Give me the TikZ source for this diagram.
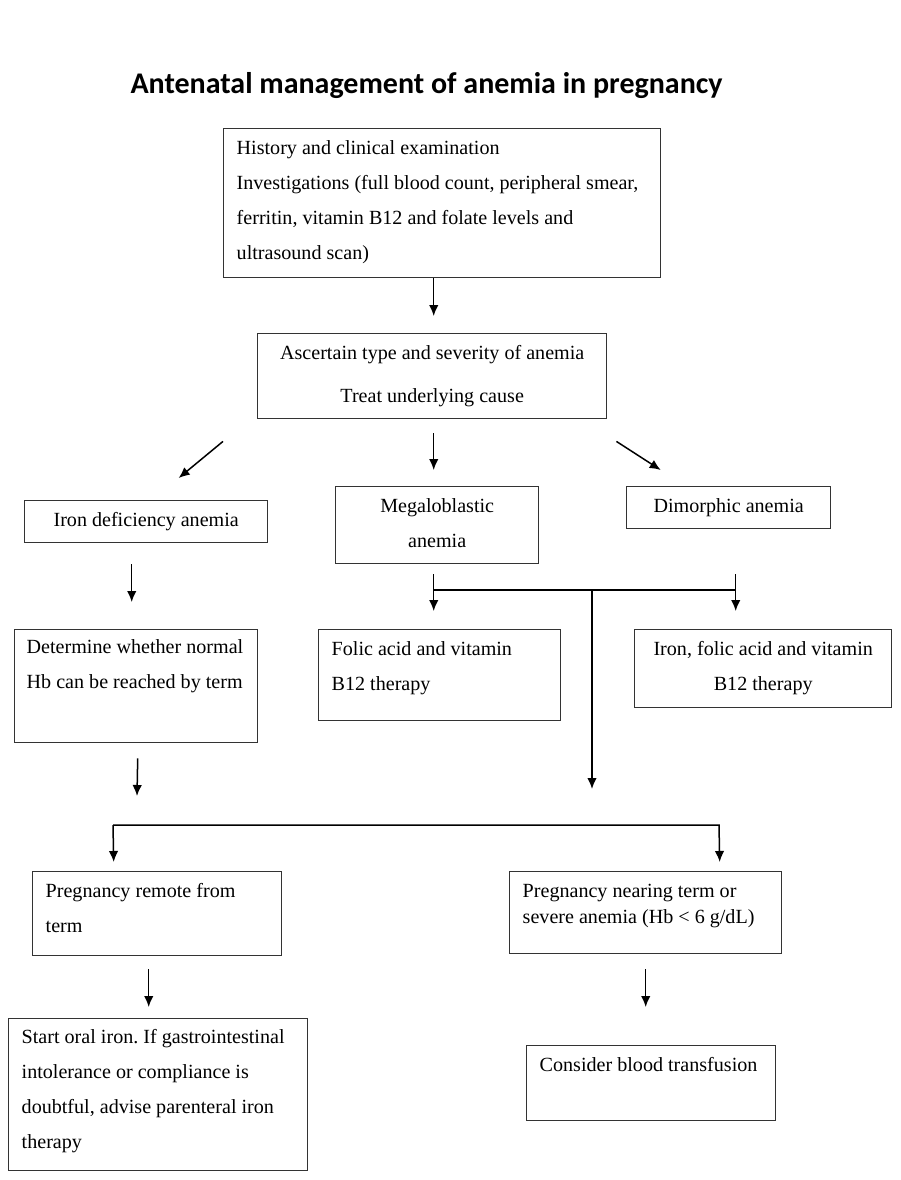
\documentclass[tikz,border=0pt]{standalone}
\usepackage{fontspec}
\setmainfont{Liberation Serif}
\newfontfamily\titlefont{Carlito}
\usepackage{tikz}
\usetikzlibrary{arrows.meta}

\begin{document}
\frenchspacing
\begin{tikzpicture}[
    x=1pt, y=-1pt,
    box/.style={rectangle,draw=black!80,line width=1.4pt,anchor=north west,inner ysep=2pt,inner xsep=13pt,font=\fontsize{20.1}{35}\selectfont},
    lbox/.style={box,align=flush left},
    cbox/.style={box,align=center},
    arrow/.style={-{Latex[length=11pt,width=9.5pt]},line width=1.5pt},
    link/.style={line width=1.5pt}
]
\useasboundingbox (0,0) rectangle (900,1180);
\node[anchor=base west,font=\titlefont\bfseries\fontsize{30}{36}\selectfont] (title) at (127,94) {Antenatal management of anemia in pregnancy};
\node[lbox,text width=411pt,minimum width=437pt,minimum height=149pt] (hist) at (223,128) {History and clinical examination\\Investigations (full blood count, peripheral smear,\\ferritin, vitamin B12 and folate levels and\\ultrasound scan)\rule[-7pt]{0pt}{7pt}};
\node[cbox,minimum width=349pt,minimum height=85pt] (ascertain) at (257,333) {Ascertain type and severity of anemia\\[8pt]Treat underlying cause};
\node[cbox,minimum width=243pt,minimum height=42pt] (iron) at (24,500) {Iron deficiency anemia};
\node[cbox,minimum width=203pt,minimum height=77pt] (mega) at (335,486) {Megaloblastic\\anemia\rule[-5pt]{0pt}{5pt}};
\node[cbox,minimum width=204pt,minimum height=42pt] (dimorphic) at (626,486) {Dimorphic anemia};
\node[lbox,text width=219pt,inner xsep=12pt,minimum width=243pt,minimum height=113pt] (determine) at (14,629) {Determine whether normal\\Hb can be reached by term\rule[-44pt]{0pt}{44pt}};
\node[lbox,text width=216pt,minimum width=242pt,minimum height=91pt] (folic) at (318,629) {Folic acid and vitamin\\B12 therapy\rule[-18pt]{0pt}{18pt}};
\node[cbox,minimum width=257pt,minimum height=78pt] (ironfolic) at (634,629) {Iron, folic acid and vitamin\\B12 therapy\rule[-5pt]{0pt}{5pt}};
\node[lbox,text width=223pt,minimum width=249pt,minimum height=84pt] (remote) at (32,871) {Pregnancy remote from\\term\rule[-11pt]{0pt}{11pt}};
\node[lbox,text width=246pt,minimum width=272pt,minimum height=82pt,font=\fontsize{20.1}{26}\selectfont] (nearing) at (509,871) {Pregnancy nearing term or\\severe anemia (Hb < 6 g/dL)\rule[-18pt]{0pt}{18pt}};
\node[lbox,text width=273pt,minimum width=299pt,minimum height=152pt] (start) at (8,1018) {Start oral iron. If gastrointestinal\\intolerance or compliance is\\doubtful, advise parenteral iron\\therapy\rule[-11pt]{0pt}{11pt}};
\node[lbox,text width=223pt,minimum width=249pt,minimum height=75pt] (consider) at (526,1045) {Consider blood transfusion\rule[-37pt]{0pt}{37pt}};
% junctions
\coordinate (joinl) at (433,590);
\coordinate (joinr) at (735,590);
\coordinate (joinm) at (592,590);
\coordinate (trunkend) at (592,789);
\coordinate (splitl) at (113,825);
\coordinate (splitr) at (719,825);
\draw[arrow] ([shift={(-8.5,0)}]hist.south) -- ([shift={(1.5,-17)}]ascertain.north);
\draw[arrow] ([shift={(-34,22)}]ascertain.south west) -- ([shift={(32.5,-22)}]iron.north);
\draw[arrow] ([shift={(1.5,14)}]ascertain.south) -- ([shift={(-3.5,-16)}]mega.north);
\draw[arrow] ([shift={(9,22)}]ascertain.south east) -- ([shift={(-68,-16)}]dimorphic.north);
\draw[arrow] ([shift={(-14.5,21)}]iron.south) -- ([shift={(-4.5,-27)}]determine.north);
\draw[arrow] ([shift={(-3.5,10)}]mega.south) -- ([shift={(-6,-18)}]folic.north);
\draw[arrow] ([shift={(7,45)}]dimorphic.south) -- ([shift={(-27.5,-18)}]ironfolic.north);
\draw[link] (joinl) -- (joinr);
\draw[arrow] (joinm) -- (trunkend);
\draw[arrow] ([shift={(1.5,15)}]determine.south) -- ([shift={(24,-29)}]splitl);
\draw[arrow] (splitl) -- (splitr) -- ([shift={(74,-9)}]nearing.north);
\draw[arrow] (splitl) -- ([shift={(-43.5,-9)}]remote.north);
\draw[arrow] ([shift={(-8.5,13)}]remote.south) -- ([shift={(-9.5,-11)}]start.north);
\draw[arrow] ([shift={(0,15)}]nearing.south) -- ([shift={(-5.5,-38)}]consider.north);
\end{tikzpicture}
\end{document}
